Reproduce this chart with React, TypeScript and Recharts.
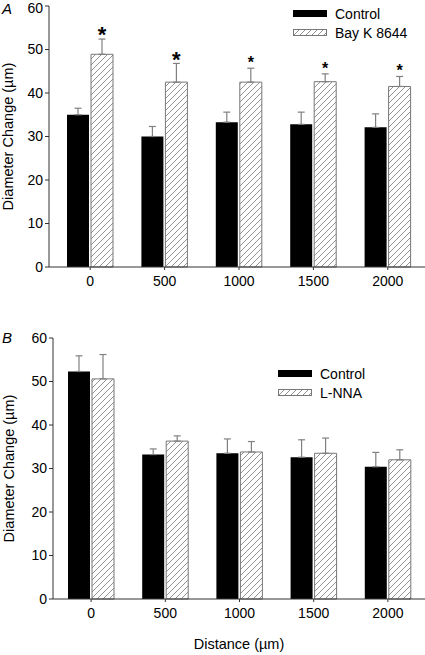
import React from 'react';
import { BarChart, Bar, XAxis, YAxis, ErrorBar, LabelList } from 'recharts';

// distance from the stimulation site (µm)
const distances = ['0', '500', '1000', '1500', '2000'];
const yTicks = [0, 10, 20, 30, 40, 50, 60];

// panel A
const controlA = [35.0, 30.0, 33.3, 32.8, 32.1];
const controlAErr = [1.5, 2.3, 2.3, 2.8, 3.1];
const bayK = [48.9, 42.5, 42.5, 42.6, 41.5];
const bayKErr = [3.5, 4.3, 3.2, 1.8, 2.3];
const sigA = ['*', '*', '*', '*', '*'];

// panel B
const controlB = [52.3, 33.2, 33.5, 32.6, 30.4];
const controlBErr = [3.6, 1.3, 3.3, 4.0, 3.3];
const lnna = [50.6, 36.3, 33.8, 33.5, 32.0];
const lnnaErr = [5.6, 1.2, 2.4, 3.5, 2.3];

const FONT = 'Arial, "Liberation Sans", sans-serif';
const ERR_COLOR = '#808080';
const AXIS_COLOR = '#333';
const TICK = { fill: '#000', fontSize: 14 };

const rowsA = distances.map((d, i) => ({
  distance: d,
  control: controlA[i],
  controlErr: [0, controlAErr[i]],
  treated: bayK[i],
  treatedErr: [0, bayKErr[i]],
}));

const rowsB = distances.map((d, i) => ({
  distance: d,
  control: controlB[i],
  controlErr: [0, controlBErr[i]],
  treated: lnna[i],
  treatedErr: [0, lnnaErr[i]],
}));

function Hatch({ id }: { id: string }) {
  return (
    <defs>
      <pattern id={id} patternUnits="userSpaceOnUse" width={6} height={6}>
        <rect width={6} height={6} fill="#fff" />
        <path d="M0,6 L6,0 M-1,1 L1,-1 M5,7 L7,5" stroke="#777" strokeWidth={0.8} />
      </pattern>
    </defs>
  );
}

function yLabel(cx: number) {
  return ({ viewBox }: any) => {
    const cy = viewBox.y + viewBox.height / 2;
    return (
      <text
        x={cx}
        y={cy}
        transform={`rotate(-90 ${cx} ${cy})`}
        textAnchor="middle"
        dominantBaseline="central"
        fontSize={14.5}
        fill="#000"
      >
        Diameter Change (µm)
      </text>
    );
  };
}

// asterisk drawn just above the top of the error bar
function starLabel(means: number[], errs: number[]) {
  return (props: any) => {
    const { x, y, width, height, index } = props;
    if (index == null || !height) return null;
    const pxPerUnit = height / means[index];
    const errTop = y - errs[index] * pxPerUnit;
    const fs = index < 2 ? 22 : 16;
    return (
      <text
        x={x + width / 2}
        y={errTop - 9 + 0.56 * fs}
        textAnchor="middle"
        fontSize={fs}
        fontWeight="bold"
        fill="#000"
      >
        {sigA[index]}
      </text>
    );
  };
}

function LegendBox({ top, left, label, hatchId }: { top: number; left: number; label: string; hatchId: string }) {
  return (
    <div style={{ position: 'absolute', top, left, width: 134, height: 40 }}>
      <svg width={134} height={40} style={{ position: 'absolute', left: 0, top: 0 }}>
        <Hatch id={hatchId} />
        <rect x={0} y={4} width={34} height={7} fill="#000" />
        <text x={42} y={8} dominantBaseline="central" fontSize={14} fill="#000">
          Control
        </text>
        <rect x={0.5} y={23.5} width={33} height={6} fill={`url(#${hatchId})`} stroke="#777" />
        <text x={42} y={27} dominantBaseline="central" fontSize={14} fill="#000">
          {label}
        </text>
      </svg>
    </div>
  );
}

export default function App() {
  return (
    <div style={{ position: 'absolute', left: 0, top: 0, width: 425, height: 655, fontFamily: FONT, background: '#fff' }}>
      <div style={{ position: 'absolute', left: 0, top: 0 }}>
        <BarChart width={425} height={300} data={rowsA} margin={{ top: 6, right: 0, bottom: 3, left: 0 }} barGap={2}>
          <Hatch id="hatchA" />
          <XAxis
            dataKey="distance"
            height={30}
            padding={{ left: 4, right: 0 }}
            tickSize={3}
            tickMargin={6}
            stroke={AXIS_COLOR}
            tick={TICK}
          />
          <YAxis
            domain={[0, 60]}
            ticks={yTicks}
            width={49}
            tickSize={4}
            tickMargin={2}
            stroke={AXIS_COLOR}
            tick={TICK}
            label={{ content: yLabel(8) }}
          />
          <Bar dataKey="control" fill="#000" barSize={22} isAnimationActive={false}>
            <ErrorBar dataKey="controlErr" width={3.5} stroke={ERR_COLOR} strokeWidth={1.2} />
          </Bar>
          <Bar dataKey="treated" fill="url(#hatchA)" stroke="#777" strokeWidth={1} barSize={22} isAnimationActive={false}>
            <ErrorBar dataKey="treatedErr" width={3.5} stroke={ERR_COLOR} strokeWidth={1.2} />
            <LabelList dataKey="treated" content={starLabel(bayK, bayKErr)} />
          </Bar>
        </BarChart>
      </div>
      <div style={{ position: 'absolute', left: 2, top: 1, fontSize: 15, lineHeight: '16px', fontStyle: 'italic' }}>A</div>
      <LegendBox top={6} left={293} label="Bay K 8644" hatchId="legA" />

      <div style={{ position: 'absolute', left: 0, top: 300 }}>
        <BarChart width={425} height={355} data={rowsB} margin={{ top: 38, right: 0, bottom: 2, left: 0 }} barGap={2}>
          <Hatch id="hatchB" />
          <XAxis
            dataKey="distance"
            height={54}
            padding={{ left: 1, right: 0 }}
            tickSize={3}
            tickMargin={6}
            stroke={AXIS_COLOR}
            tick={TICK}
            label={{
              content: ({ viewBox }: any) => (
                <text x={viewBox.x + viewBox.width / 2} y={349} textAnchor="middle" fontSize={14.5} fill="#000">
                  Distance (µm)
                </text>
              ),
            }}
          />
          <YAxis
            domain={[0, 60]}
            ticks={yTicks}
            width={53}
            tickSize={4}
            tickMargin={2}
            stroke={AXIS_COLOR}
            tick={TICK}
            label={{ content: yLabel(9) }}
          />
          <Bar dataKey="control" fill="#000" barSize={22} isAnimationActive={false}>
            <ErrorBar dataKey="controlErr" width={3.5} stroke={ERR_COLOR} strokeWidth={1.2} />
          </Bar>
          <Bar dataKey="treated" fill="url(#hatchB)" stroke="#777" strokeWidth={1} barSize={22} isAnimationActive={false}>
            <ErrorBar dataKey="treatedErr" width={3.5} stroke={ERR_COLOR} strokeWidth={1.2} />
          </Bar>
        </BarChart>
      </div>
      <div style={{ position: 'absolute', left: 2, top: 330, fontSize: 15, lineHeight: '16px', fontStyle: 'italic' }}>B</div>
      <LegendBox top={366} left={278} label="L-NNA" hatchId="legB" />
    </div>
  );
}
